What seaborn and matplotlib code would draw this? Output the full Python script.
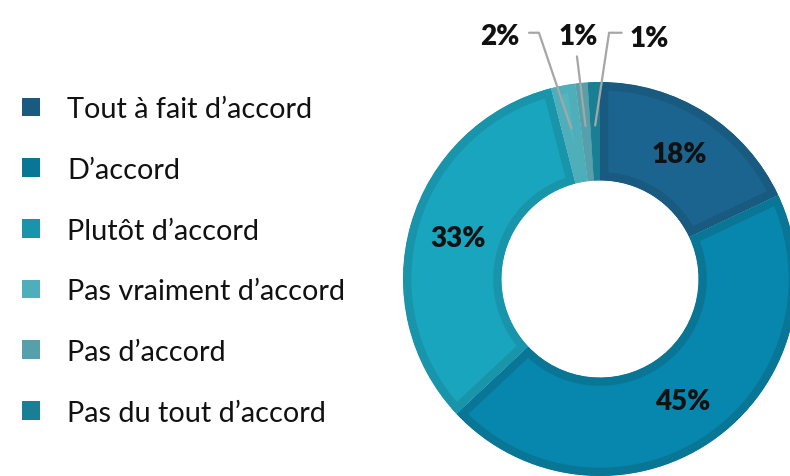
import numpy as np
import matplotlib
matplotlib.use("Agg")
import matplotlib.pyplot as plt
from matplotlib.patches import Patch
import seaborn as sns

sns.set_theme(style="white")
plt.rcParams['font.family'] = ['Lato', 'DejaVu Sans']

categories = ["Tout à fait d’accord", "D’accord", "Plutôt d’accord",
              "Pas vraiment d’accord", "Pas d’accord", "Pas du tout d’accord"]
values = [18, 45, 33, 2, 1, 1]
fill_colors = ["#1C6490", "#0787AE", "#1AA5BE", "#52B5C0", "#5AA5B0", "#1B8499"]
edge_colors = ["#185A80", "#0A7696", "#1895AB", "#4EAFBA", "#56A0AC", "#1A7F94"]

fig = plt.figure(figsize=(7.9, 4.77), dpi=100)
# donut axes: centre ~ (600, 280) px, radius ~197 px
ax = fig.add_axes([403 / 790, 0.0, 394 / 790, 394 / 477])

def pct_label(p):
    return f"{p:.0f}%" if p >= 5 else ""

wedges, texts, autotexts = ax.pie(
    values, colors=fill_colors, startangle=90, counterclock=False,
    autopct=pct_label, pctdistance=0.75,
    wedgeprops=dict(width=0.5, linewidth=12),
    textprops=dict(fontsize=20, fontweight="heavy", color="#111111"))

# inset darker border: stroke clipped to its own wedge
for w, ec in zip(wedges, edge_colors):
    w.set_edgecolor(ec)
    w.set_clip_path(w)
    w.set_clip_on(True)

ax.set_xlim(-1, 1)
ax.set_ylim(-1, 1)
ax.set_aspect("equal")
ax.axis("off")

# outside labels for small slices, with grey leader lines
total = sum(values)
cum = np.cumsum([0] + values)
mids = [90 - (cum[i] + values[i] / 2) / total * 360 for i in range(len(values))]
small = [3, 4, 5]
label_pos = {3: (-0.51, 1.235), 4: (-0.11, 1.235), 5: (0.25, 1.225)}
elbows = {3: [(-0.36, 1.25), (-0.31, 1.25)],
          4: [(-0.117, 1.13)],
          5: [(0.11, 1.25), (0.046, 1.25)]}
for i in small:
    a = np.deg2rad(mids[i])
    anchor = (0.78 * np.cos(a), 0.78 * np.sin(a))
    pts = elbows[i] + [anchor]
    xs, ys = zip(*pts)
    ax.plot(xs, ys, color="#A6A6A6", lw=1.6, clip_on=False)
    ax.text(*label_pos[i], f"{values[i] / total * 100:.0f}%", ha="center", va="center",
            fontsize=20, fontweight="heavy", color="#111111")

handles = [Patch(facecolor=c, edgecolor="none") for c in edge_colors]
fig.legend(handles, categories, loc="center left", bbox_to_anchor=(22 / 790, 0.451),
           frameon=False, fontsize=20.8, handlelength=0.62, handleheight=0.62,
           handletextpad=0.95, labelspacing=1.2, borderpad=0, borderaxespad=0,
           labelcolor="#111111")

fig.savefig("out.png", dpi=100)
